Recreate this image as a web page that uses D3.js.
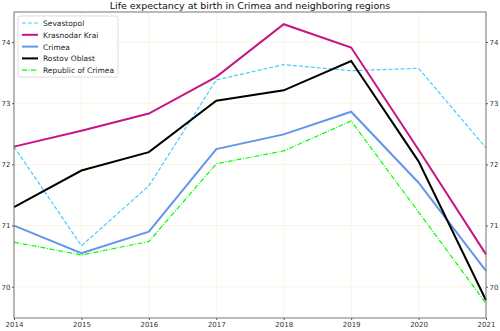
<!DOCTYPE html>
<html>
<head>
<meta charset="utf-8">
<script src="https://cdn.jsdelivr.net/npm/d3@7"></script>
<style>
  body { margin: 0; background: #fff; }
  text { font-family: "DejaVu Sans", sans-serif; }
</style>
</head>
<body>
<div id="chart"></div>
<script>
// Width and Height of the whole visualization
var width = 500;
var height = 331;

// Data
var years = [2014, 2015, 2016, 2017, 2018, 2019, 2020, 2021];
var sevastopol = [72.29, 70.67, 71.65, 73.38, 73.63, 73.53, 73.57, 72.27];
var krasnodar = [72.29, 72.55, 72.83, 73.43, 74.29, 73.91, 72.24, 70.53];
var crimea = [71.00, 70.55, 70.90, 72.25, 72.49, 72.86, 71.70, 70.26];
var rostov = [71.30, 71.90, 72.20, 73.04, 73.21, 73.69, 72.05, 69.78];
var repCrimea = [70.73, 70.52, 70.74, 72.01, 72.22, 72.71, 71.22, 69.73];
var yTicks = [70, 71, 72, 73, 74];

var series = [
  {name: "Sevastopol", values: sevastopol, color: "#3fcfff", dash: "4,2", width: 1.2},
  {name: "Krasnodar Krai", values: krasnodar, color: "#c71585", dash: null, width: 2},
  {name: "Crimea", values: crimea, color: "#6495ed", dash: null, width: 2},
  {name: "Rostov Oblast", values: rostov, color: "#000000", dash: null, width: 2},
  {name: "Republic of Crimea", values: repCrimea, color: "#00ff00", dash: "5,1.5,1,1.5", width: 1.2}
];

var margin = {top: 12, right: 14, bottom: 13, left: 14};

var svg = d3.select("#chart")
  .append("svg")
  .attr("width", width)
  .attr("height", height);

var x = d3.scaleLinear()
  .domain([2014, 2021])
  .range([margin.left, width - margin.right]);

var y = d3.scaleLinear()
  .domain([69.49, 74.49])
  .range([height - margin.bottom, margin.top]);

// Grid
svg.append("g")
  .selectAll("line.vgrid")
  .data(years)
  .enter().append("line")
  .attr("x1", function(d) { return x(d); })
  .attr("x2", function(d) { return x(d); })
  .attr("y1", y.range()[0])
  .attr("y2", y.range()[1])
  .style("stroke", "#fbf3e2")
  .style("stroke-width", 1);

svg.append("g")
  .selectAll("line.hgrid")
  .data(yTicks)
  .enter().append("line")
  .attr("x1", x.range()[0])
  .attr("x2", x.range()[1])
  .attr("y1", function(d) { return y(d); })
  .attr("y2", function(d) { return y(d); })
  .style("stroke", "#fbf3e2")
  .style("stroke-width", 1);

// Lines
var line = d3.line()
  .x(function(d, i) { return x(years[i]); })
  .y(function(d) { return y(d); });

svg.append("g")
  .selectAll("path")
  .data(series)
  .enter().append("path")
  .attr("d", function(d) { return line(d.values); })
  .style("fill", "none")
  .style("stroke", function(d) { return d.color; })
  .style("stroke-width", function(d) { return d.width; })
  .style("stroke-dasharray", function(d) { return d.dash; });

// Axes
var xAxis = d3.axisBottom(x)
  .tickValues(years)
  .tickFormat(d3.format("d"))
  .tickSize(2)
  .tickPadding(2);

var yLeft = d3.axisLeft(y).tickValues(yTicks).tickFormat(d3.format("d")).tickSize(2).tickPadding(1.5);
var yRight = d3.axisRight(y).tickValues(yTicks).tickFormat(d3.format("d")).tickSize(2).tickPadding(1.5);

function styleAxis(g) {
  g.select(".domain").remove();
  g.selectAll("line").style("stroke", "#555");
  g.selectAll("text").style("font-size", "7px").style("fill", "#333");
}

svg.append("g")
  .attr("transform", "translate(0," + y.range()[0] + ")")
  .call(xAxis).call(styleAxis);

svg.append("g")
  .attr("transform", "translate(" + x.range()[0] + ",0)")
  .call(yLeft).call(styleAxis);

svg.append("g")
  .attr("transform", "translate(" + x.range()[1] + ",0)")
  .call(yRight).call(styleAxis);

// Frame
svg.append("rect")
  .attr("x", x.range()[0])
  .attr("y", y.range()[1])
  .attr("width", x.range()[1] - x.range()[0])
  .attr("height", y.range()[0] - y.range()[1])
  .style("fill", "none")
  .style("stroke", "#777")
  .style("stroke-width", 1);

// Title
svg.append("text")
  .attr("x", width / 2)
  .attr("y", 9)
  .attr("text-anchor", "middle")
  .style("font-size", "9.5px")
  .style("fill", "#111")
  .text("Life expectancy at birth in Crimea and neighboring regions");

// Legend
var legend = svg.append("g").attr("transform", "translate(18,16)");

legend.append("rect")
  .attr("width", 100)
  .attr("height", 61)
  .attr("rx", 2)
  .style("fill", "white")
  .style("fill-opacity", 0.8)
  .style("stroke", "#ddd");

var item = legend.selectAll("g.item")
  .data(series)
  .enter().append("g")
  .attr("transform", function(d, i) { return "translate(0," + (7 + i * 11.8) + ")"; });

item.append("line")
  .attr("x1", 4)
  .attr("x2", 20)
  .style("stroke", function(d) { return d.color; })
  .style("stroke-width", function(d) { return d.width; })
  .style("stroke-dasharray", function(d) { return d.dash; });

item.append("text")
  .attr("x", 25)
  .attr("y", 3)
  .style("font-size", "7.5px")
  .style("fill", "#222")
  .text(function(d) { return d.name; });
</script>
</body>
</html>
